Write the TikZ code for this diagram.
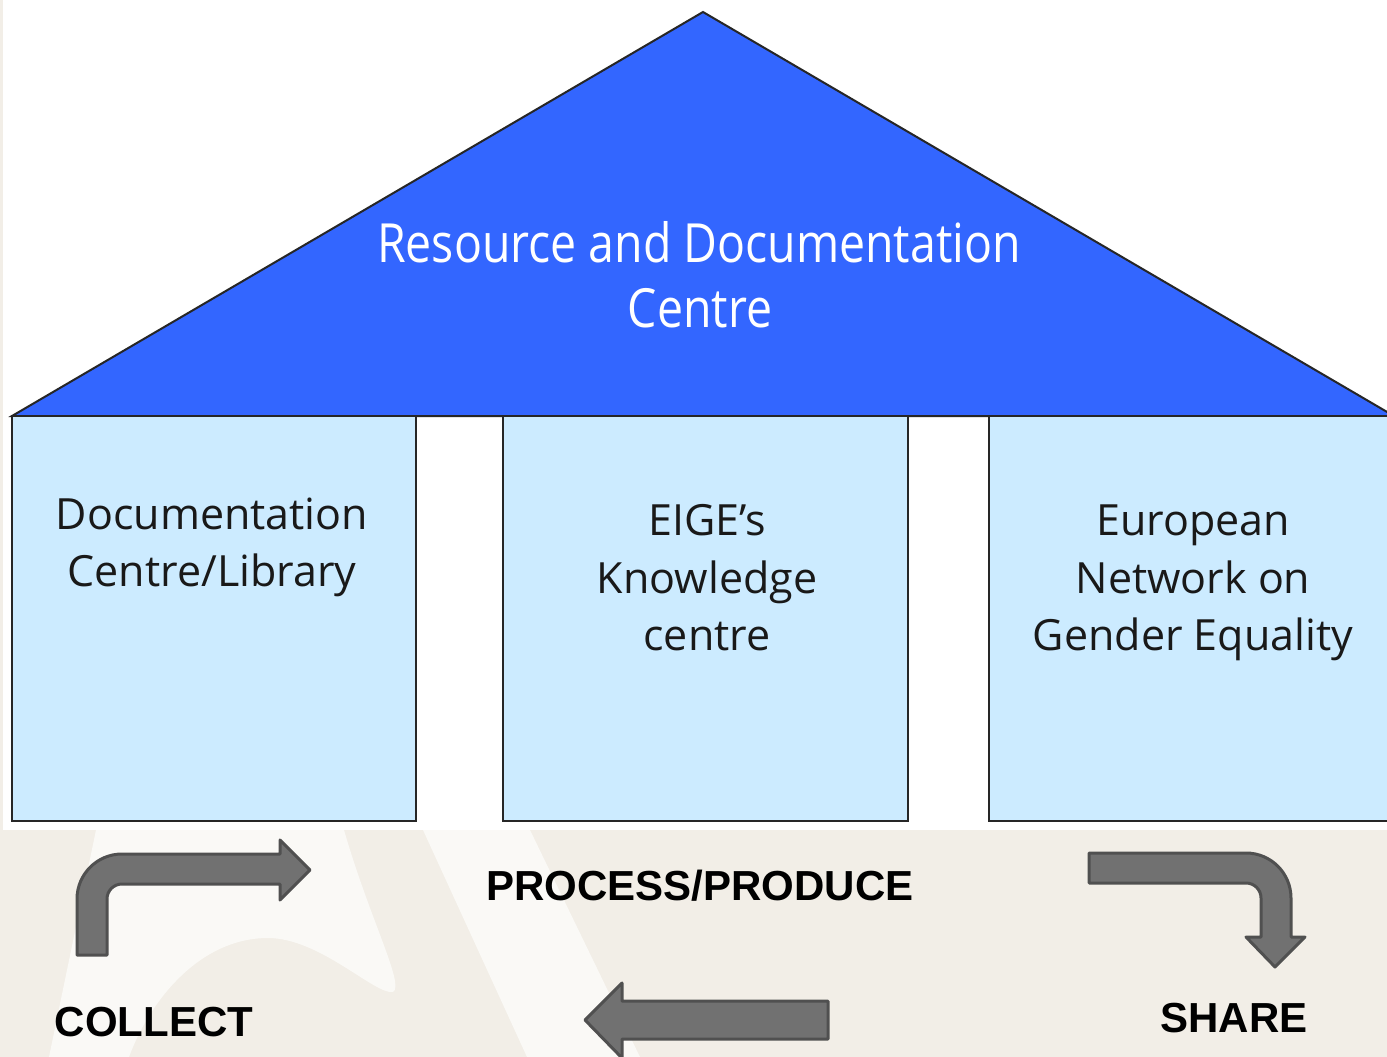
\documentclass[tikz,border=0pt]{standalone}
\usepackage{fontspec}
\setmainfont{Open Sans}
\newfontfamily\labelfont{Liberation Sans}
\newfontfamily\rooffont[FakeStretch=0.86]{Open Sans}
\definecolor{roofblue}{HTML}{3366FF}
\definecolor{boxblue}{HTML}{CCEBFF}
\definecolor{beige}{HTML}{F2EEE7}
\definecolor{pale}{HTML}{FAF9F6}
\definecolor{arrowgray}{HTML}{717171}
\definecolor{arrowedge}{HTML}{505050}
\begin{document}
\begin{tikzpicture}[x=1pt,y=-1pt,
  pillar/.style={fill=boxblue,draw=black!85,line width=2pt},
  boxtxt/.style={anchor=base,inner sep=0pt,text=black!90,font=\fontsize{43}{50}\selectfont},
  rooftxt/.style={anchor=base,inner sep=0pt,text=white,font=\rooffont\fontsize{54}{60}\selectfont},
  steplabel/.style={anchor=base,inner sep=0pt,text=black,font=\labelfont\bfseries\fontsize{42}{48}\selectfont},
  bigarrow/.style={fill=arrowgray,draw=arrowedge,line width=3pt,line join=round}]
\useasboundingbox (0,0) rectangle (1387,1057);
\clip (0,0) rectangle (1387,1057);
% background
\fill[beige] (0,0) rectangle (1387,1057);
\fill[pale] (96,830) -- (344,830) .. controls (370,920) and (405,985) .. (393,992)
  .. controls (375,995) and (320,938) .. (268,938)
  .. controls (200,938) and (150,1000) .. (129,1057) -- (49,1057) -- cycle;
\fill[pale] (423,830) -- (530,830) -- (640,1057) -- (527,1057) -- cycle;
\fill[white] (3,0) rectangle (1387,830);
% roof
\filldraw[fill=roofblue,draw=black!85,line width=2pt] (12,416) -- (703,12) -- (1394,416) -- cycle;
% pillars
\draw[pillar] (12,416) rectangle (416,821);
\draw[pillar] (503,416) rectangle (908,821);
\draw[pillar] (989,416) rectangle (1394,821);
% roof text
\node[rooftxt] (r1) at (699,262) {Resource and Documentation};
\node[rooftxt] (r2) at (700,327) {Centre};
% pillar texts
\node[boxtxt] (a1) at (212,529) {Documentation};
\node[boxtxt] (a2) at (212,586) {Centre/Library};
\node[boxtxt] (b1) at (707,535) {EIGE’s};
\node[boxtxt] (b2) at (707,593) {Knowledge};
\node[boxtxt] (b3) at (707,650) {centre};
\node[boxtxt] (c1) at (1193,535) {European};
\node[boxtxt] (c2) at (1193,593) {Network on};
\node[boxtxt] (c3) at (1193,650) {Gender Equality};
% step labels
\node[steplabel] (proc) at (700,900) {PROCESS/PRODUCE};
\node[steplabel] (coll) at (154,1036) {COLLECT};
\node[steplabel] (share) at (1234,1032) {SHARE};
% arrows
\draw[bigarrow] (77,955) -- (77,899) arc[start angle=180,end angle=270,radius=45]
  -- (280,854) -- (280,840) -- (310,870) -- (280,900) -- (280,884) -- (122,884)
  arc[start angle=270,end angle=180,radius=15] -- (107,955) -- cycle;
\draw[bigarrow] (1089,853) -- (1246,853) arc[start angle=270,end angle=360,radius=45]
  -- (1291,937) -- (1305,937) -- (1275,967) -- (1246,937) -- (1261,937) -- (1261,898)
  arc[start angle=360,end angle=270,radius=15] -- (1089,883) -- cycle;
\draw[bigarrow] (828,1001) -- (828,1039) -- (622,1039) -- (622,1058) -- (585,1020)
  -- (622,983) -- (622,1001) -- cycle;
\end{tikzpicture}
\end{document}
